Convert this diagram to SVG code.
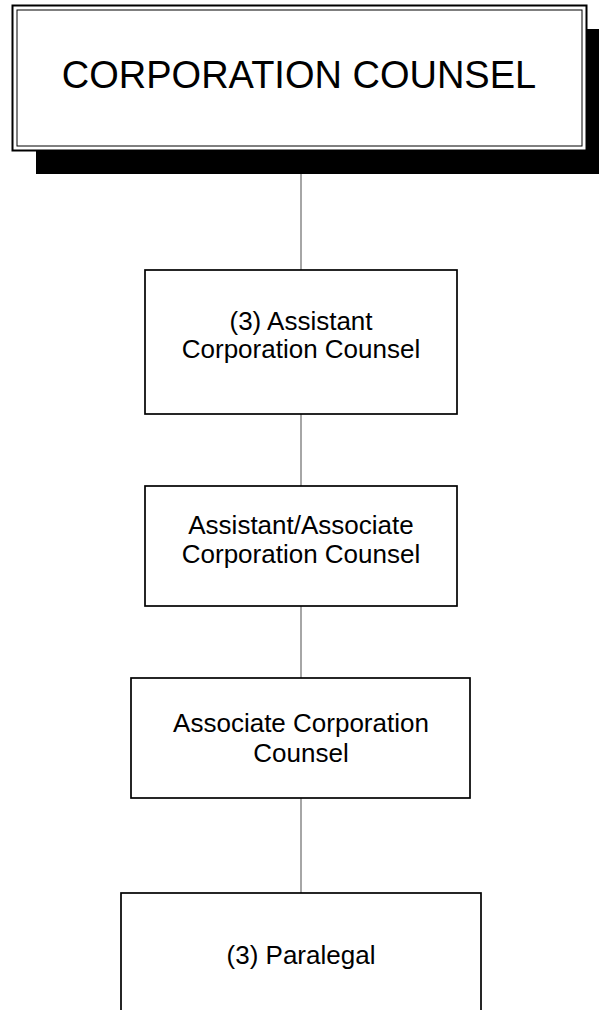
<svg xmlns="http://www.w3.org/2000/svg" width="599" height="1010" viewBox="0 0 599 1010">
<style>
.box{fill:#fff;stroke:#000;stroke-width:1.7}
.lbl{font-family:"Liberation Sans",Arial,sans-serif;font-size:26px;fill:#000;text-anchor:middle}
.title{font-family:"Liberation Sans",Arial,sans-serif;font-size:38px;fill:#000;text-anchor:middle}
.conn{stroke:#808080;stroke-width:1.4;fill:none}
</style>
<rect width="599" height="1010" fill="#fff"/>
<g id="connectors">
<line class="conn" x1="301" y1="174" x2="301" y2="270"/>
<line class="conn" x1="301" y1="414" x2="301" y2="486"/>
<line class="conn" x1="301" y1="606" x2="301" y2="678"/>
<line class="conn" x1="301" y1="798" x2="301" y2="893"/>
</g>
<g id="corporation-counsel">
<rect x="36" y="29" width="563" height="145" fill="#000"/>
<rect x="12.5" y="5.5" width="574" height="145" fill="#fff" stroke="#000" stroke-width="2"/>
<rect x="17" y="10" width="565" height="136" fill="none" stroke="#000" stroke-width="1"/>
<text class="title" x="299" y="88">CORPORATION COUNSEL</text>
</g>
<g id="assistant-cc">
<rect class="box" x="145" y="270" width="312" height="144"/>
<text class="lbl" x="301" y="330">(3) Assistant</text>
<text class="lbl" x="301" y="358">Corporation Counsel</text>
</g>
<g id="assistant-associate-cc">
<rect class="box" x="145" y="486" width="312" height="120"/>
<text class="lbl" x="301" y="534">Assistant/Associate</text>
<text class="lbl" x="301" y="563">Corporation Counsel</text>
</g>
<g id="associate-cc">
<rect class="box" x="131" y="678" width="339" height="120"/>
<text class="lbl" x="301" y="732">Associate Corporation</text>
<text class="lbl" x="301" y="762">Counsel</text>
</g>
<g id="paralegal">
<rect class="box" x="121" y="893" width="360" height="130"/>
<text class="lbl" x="301" y="964">(3) Paralegal</text>
</g>
</svg>
